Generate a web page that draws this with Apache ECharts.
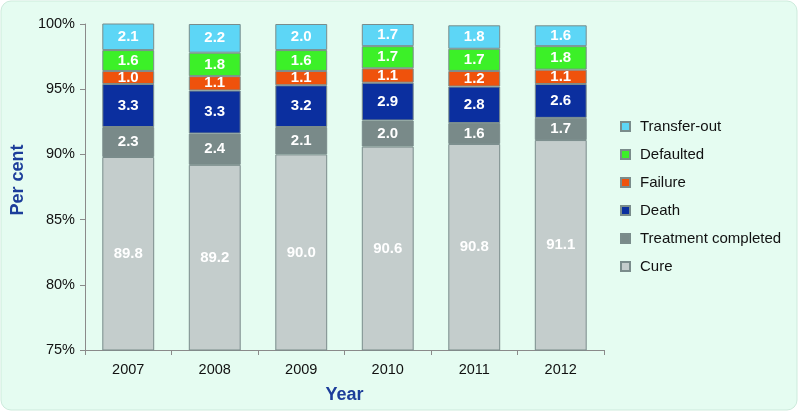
<!DOCTYPE html>
<html><head><meta charset="utf-8">
<script src="https://cdn.jsdelivr.net/npm/echarts@6/dist/echarts.min.js"></script>
<style>html,body{margin:0;padding:0;background:#fff}#c{width:798px;height:411px}</style>
</head><body><div id="c"></div>
<script>
var years = ['2007','2008','2009','2010','2011','2012'];
var cure = [89.8, 89.2, 90.0, 90.6, 90.8, 91.1];
var treatmentCompleted = [2.3, 2.4, 2.1, 2.0, 1.6, 1.7];
var death = [3.3, 3.3, 3.2, 2.9, 2.8, 2.6];
var failure = [1.0, 1.1, 1.1, 1.1, 1.2, 1.1];
var defaulted = [1.6, 1.8, 1.6, 1.7, 1.7, 1.8];
var transferOut = [2.1, 2.2, 2.0, 1.7, 1.8, 1.6];
var seriesNames = ['Cure','Treatment completed','Death','Failure','Defaulted','Transfer-out'];
var seriesData = [cure, treatmentCompleted, death, failure, defaulted, transferOut];
var colors = ['#c4cdcc','#798a89','#0b2f9f','#ef520c','#3cf028','#5dd6f6'];
var yTicks = [75, 80, 85, 90, 95, 100];

var FONT = "'Liberation Sans', Arial, sans-serif";
var chart = echarts.init(document.getElementById('c'), null, {renderer:'canvas'});
var series = seriesNames.map(function(n, i){
  return {
    name: n, type: 'bar', stack: 'all', barWidth: '60%',
    data: seriesData[i],
    itemStyle: {color: colors[i], borderColor: '#7a8c8b', borderWidth: 1},
    label: {show: true, position: 'inside', color: '#fff', fontFamily: FONT, fontSize: 15, fontWeight: 'bold',
      formatter: function(p){ return p.value.toFixed(1); }}
  };
});
chart.setOption({
  backgroundColor: '#ffffff',
  animation: false,
  graphic: [{type:'rect', shape:{x:1,y:1,width:796,height:409,r:10}, style:{fill:'#e5fcf1', stroke:'#cdebdc', lineWidth:1}, z:-10, silent:true}],
  grid: {left: 85, right: 194, top: 24, bottom: 61, containLabel: false, outerBoundsMode: 'none'},
  legend: {
    data: seriesNames.slice().reverse(), orient: 'vertical', left: 615, top: 114,
    itemWidth: 9, itemHeight: 9, itemGap: 13, icon: 'rect',
    textStyle: {fontFamily: FONT, fontSize: 15, color: '#111', padding: [0,0,0,5]}
  },
  xAxis: {
    type: 'category', data: years, name: 'Year', nameLocation: 'middle', nameGap: 36,
    nameTextStyle: {fontFamily: FONT, fontSize: 18, fontWeight: 'bold', color: '#1c3d9a'},
    axisLine: {lineStyle: {color: '#8a8a8a'}},
    axisTick: {show: true, alignWithLabel: false, length: 5, lineStyle: {color: '#8a8a8a'}},
    axisLabel: {fontFamily: FONT, fontSize: 14.5, color: '#111', margin: 12}
  },
  yAxis: {
    type: 'value', min: 75, max: 100, interval: 5, name: 'Per cent', nameLocation: 'middle', nameGap: 50,
    nameTextStyle: {fontFamily: FONT, fontSize: 18, fontWeight: 'bold', color: '#1c3d9a', padding: [0,0,0,14]},
    axisLine: {show: true, lineStyle: {color: '#8a8a8a'}},
    axisTick: {show: true, length: 5, lineStyle: {color: '#8a8a8a'}},
    splitLine: {show: false},
    axisLabel: {fontFamily: FONT, fontSize: 14.5, color: '#111', margin: 10, formatter: '{value}%'}
  },
  series: series
});
</script></body></html>
